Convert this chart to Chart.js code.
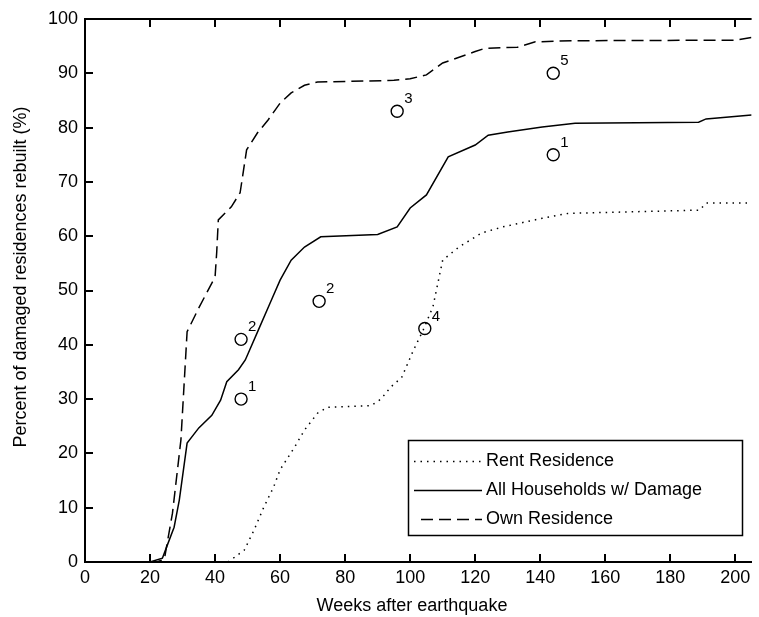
<!DOCTYPE html>
<html>
<head>
<meta charset="utf-8">
<script src="https://cdn.jsdelivr.net/npm/chart.js@4/dist/chart.umd.min.js"></script>
<style>
  html, body { margin: 0; padding: 0; background: #fff; }
  #wrap { width: 759px; height: 617px; }
</style>
</head>
<body>
<div id="wrap"><canvas id="rebuild-graph" width="759" height="617"></canvas></div>
<script>
const FONT = '"Liberation Sans", Arial, sans-serif';

// weeks after earthquake / percent rebuilt
const rentWeeks = [44, 49, 52, 55, 58, 60, 64.5, 67.5, 71.5, 74.6, 88, 91, 94, 97.4, 101, 104, 107, 110, 115, 122, 128.4, 140.6, 148.5, 189, 191, 205];
const rentPct = [0, 2.2, 5.9, 10.1, 13.8, 17, 21.2, 24.3, 27.4, 28.5, 28.8, 30, 32.2, 34, 39, 42.7, 47, 55.6, 58, 60.6, 61.7, 63.3, 64.2, 64.8, 66.1, 66.1];

const allWeeks = [20, 23.8, 25, 27.4, 29, 31.4, 35, 39, 41.7, 43.6, 47.2, 49.3, 53.3, 57.3, 60, 63.4, 67.5, 72.5, 90, 96, 100, 105, 111.7, 120, 124, 130, 140.6, 150.7, 188.7, 191, 205];
const allPct = [0, 0.7, 2.6, 6.4, 11.4, 21.9, 24.7, 27, 29.8, 33.2, 35.4, 37.2, 42.7, 48.2, 51.9, 55.6, 58, 59.9, 60.3, 61.7, 65.2, 67.6, 74.6, 76.8, 78.6, 79.2, 80.1, 80.8, 81, 81.6, 82.3];

const ownWeeks = [20, 22, 24.4, 26.9, 29.5, 31.4, 35, 40, 40.5, 41, 45, 47.7, 49.7, 53, 56.3, 60, 63.4, 67.5, 71.5, 80, 95, 100, 105, 110, 120, 123, 133, 138.5, 150, 200, 205];
const ownPct = [0, 0, 0.5, 9, 22.5, 42.4, 46.8, 52.5, 57, 63, 65.4, 68, 75.9, 79, 81.4, 84.5, 86.4, 87.8, 88.4, 88.5, 88.7, 89, 89.7, 91.9, 94, 94.6, 94.8, 95.8, 96, 96.1, 96.6];

// survey points with their reference numbers
const markerWeeks = [48, 48, 72, 96, 104.5, 144, 144];
const markerPct = [30, 41, 48, 83, 43, 90, 75];
const markerLabels = ['1', '2', '2', '3', '4', '5', '1'];

const xTicks = [0, 20, 40, 60, 80, 100, 120, 140, 160, 180, 200];
const yTicks = [0, 10, 20, 30, 40, 50, 60, 70, 80, 90, 100];

const seriesNames = ['Rent Residence', 'All Households w/ Damage', 'Own Residence'];

const toPoints = (xs, ys) => xs.map((x, i) => ({ x: x, y: ys[i] }));

const DOTTED = [1.5, 5];
const DASHED = [12, 6];

// inward ticks, top frame, axis titles, marker numbers and legend box
const matlabLook = {
    id: 'matlabLook',
    afterDraw(chart) {
        const ctx = chart.ctx;
        const area = chart.chartArea;
        const xs = chart.scales.x;
        const ys = chart.scales.y;
        const tick = 8;
        const bottom = Math.round(ys.getPixelForValue(0));
        const top = Math.round(ys.getPixelForValue(100));
        const left = Math.round(xs.getPixelForValue(0));

        ctx.save();
        ctx.setLineDash([]);
        ctx.globalAlpha = 1;
        ctx.fillStyle = '#000';

        // top frame and inward ticks
        ctx.fillRect(left - 1, top - 1, area.right - left + 1, 2);
        xTicks.forEach(v => {
            const px = Math.round(xs.getPixelForValue(v));
            ctx.fillRect(px - 1, bottom - tick, 2, tick);
            ctx.fillRect(px - 1, top, 2, tick);
        });
        yTicks.forEach(v => {
            const py = Math.round(ys.getPixelForValue(v));
            ctx.fillRect(left, py - 1, tick, 2);
        });

        // marker numbers
        ctx.font = '15px ' + FONT;
        ctx.textAlign = 'left';
        ctx.textBaseline = 'alphabetic';
        markerLabels.forEach((lab, i) => {
            const px = xs.getPixelForValue(markerWeeks[i]);
            const py = ys.getPixelForValue(markerPct[i]);
            ctx.fillText(lab, px + 7, py - 8);
        });

        // axis titles
        ctx.font = '18px ' + FONT;
        ctx.textAlign = 'center';
        ctx.textBaseline = 'middle';
        ctx.fillText('Weeks after earthquake', (area.left + 743) / 2 - 2, 606);
        ctx.save();
        ctx.translate(21, 277);
        ctx.rotate(-Math.PI / 2);
        ctx.fillText('Percent of damaged residences rebuilt (%)', 0, 0);
        ctx.restore();

        // legend
        const box = { left: 408.5, top: 440.5, width: 334, height: 95 };
        ctx.fillStyle = '#fff';
        ctx.fillRect(box.left, box.top, box.width, box.height);
        ctx.strokeStyle = '#000';
        ctx.lineWidth = 1.5;
        ctx.strokeRect(box.left, box.top, box.width, box.height);
        const dashes = [DOTTED, [], DASHED];
        const rowY = [461, 490, 519];
        ctx.font = '18px ' + FONT;
        ctx.textAlign = 'left';
        seriesNames.forEach((name, i) => {
            ctx.beginPath();
            ctx.setLineDash(dashes[i]);
            ctx.lineWidth = 1.5;
            ctx.moveTo(i === 2 ? 421 : 414, rowY[i] + 0.5);
            ctx.lineTo(482, rowY[i] + 0.5);
            ctx.stroke();
            ctx.setLineDash([]);
            ctx.fillStyle = '#000';
            ctx.fillText(name, 486, rowY[i]);
        });
        ctx.restore();
    }
};

const chartEl = document.getElementById('rebuild-graph');

let rebuildGraph = new Chart(chartEl, {
    type: 'line',
    data: {
        datasets: [{
            label: seriesNames[0],
            data: toPoints(rentWeeks, rentPct),
            borderColor: '#000',
            borderWidth: 1.5,
            borderDash: DOTTED,
            pointRadius: 0,
            tension: 0,
        }, {
            label: seriesNames[1],
            data: toPoints(allWeeks, allPct),
            borderColor: '#000',
            borderWidth: 1.5,
            pointRadius: 0,
            tension: 0,
        }, {
            label: seriesNames[2],
            data: toPoints(ownWeeks, ownPct),
            borderColor: '#000',
            borderWidth: 1.5,
            borderDash: DASHED,
            pointRadius: 0,
            tension: 0,
        }, {
            type: 'scatter',
            label: 'Survey',
            data: toPoints(markerWeeks, markerPct),
            showLine: false,
            pointStyle: 'circle',
            pointRadius: 6,
            pointBorderWidth: 1.4,
            borderColor: '#000',
            backgroundColor: 'rgba(0,0,0,0)',
        }]
    },
    options: {
        responsive: false,
        animation: false,
        layout: { padding: { top: 19, right: 0, left: 0, bottom: 0 } },
        plugins: {
            legend: { display: false },
            tooltip: { enabled: false },
        },
        scales: {
            x: {
                type: 'linear',
                min: 0,
                max: 205,
                afterBuildTicks: (scale) => { scale.ticks = xTicks.map(v => ({ value: v })); },
                afterFit: (scale) => { scale.height = 55; },
                grid: { display: false, drawTicks: false },
                border: { display: true, color: '#000', width: 2 },
                ticks: { color: '#000', padding: 5, maxRotation: 0, font: { family: FONT, size: 18 } },
            },
            y: {
                type: 'linear',
                min: 0,
                max: 100,
                afterBuildTicks: (scale) => { scale.ticks = yTicks.map(v => ({ value: v })); },
                afterFit: (scale) => { scale.width = 85; },
                grid: { display: false, drawTicks: false },
                border: { display: true, color: '#000', width: 2 },
                ticks: { color: '#000', padding: 7, font: { family: FONT, size: 18 } },
            }
        }
    },
    plugins: [matlabLook],
});
</script>
</body>
</html>
